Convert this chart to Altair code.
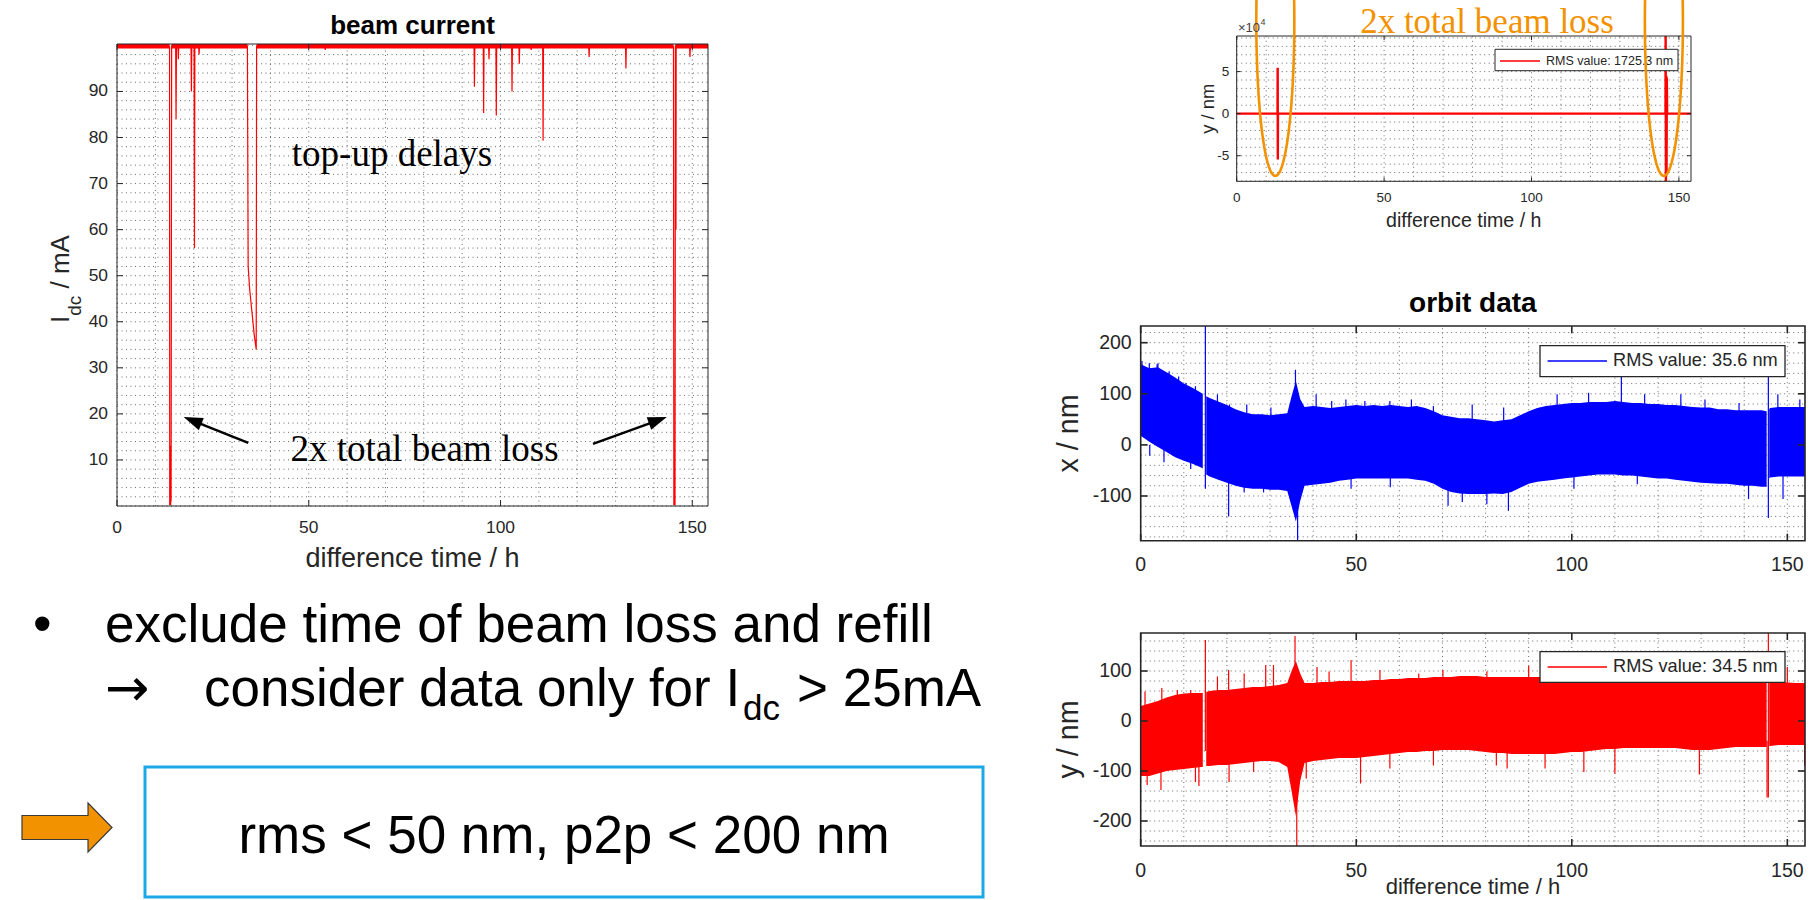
import altair as alt
import numpy as np
import pandas as pd

RED = "#ff0000"
BLUE = "#0000ff"
ORANGE = "#f39200"
AXC = "#262626"
GRIDC = "#6a6a6a"
SANS = "Liberation Sans"
SERIF = "Liberation Serif"

# ---------------- beam current (mA) vs time (h) ----------------
bc_t = [0, 13.7, 13.75, 14.0, 14.05, 14.1, 14.25,
        15.3, 15.4, 15.5, 15.9, 16.0, 16.1,
        19.3, 19.4, 19.5, 20.1, 20.2, 20.3, 21.3, 21.4, 21.5,
        34.0, 34.2, 34.6, 35.2, 35.8, 36.3, 36.4,
        54.2, 54.3, 54.4, 93.1, 93.2, 93.3, 95.5, 95.6, 95.7,
        96.9, 97.0, 97.1, 98.8, 98.9, 99.0, 102.9, 103.0, 103.1,
        104.8, 104.9, 105.0, 107.9, 108.0, 108.1, 111.0, 111.1, 111.2,
        123.0, 123.1, 123.2, 132.6, 132.7, 132.8,
        145.1, 145.2, 145.5, 145.6, 145.7, 145.75, 145.8,
        149.3, 149.4, 149.5, 154.1]
bc_i = [99.8, 99.8, 0.3, 0.3, 13, 1, 99.8,
        99.8, 84, 99.8, 99.8, 97, 99.8,
        99.8, 90, 99.8, 99.8, 56, 99.8, 99.8, 98, 99.8,
        99.8, 52, 47, 42, 37, 34, 99.8,
        99.8, 99, 99.8, 99.8, 91, 99.8, 99.8, 85.3, 99.8,
        99.8, 97, 99.8, 99.8, 84.8, 99.8, 99.8, 90, 99.8,
        99.8, 96, 99.8, 99.8, 99, 99.8, 99.8, 79.3, 99.8,
        99.8, 97.5, 99.8, 99.8, 95, 99.8,
        99.8, 0.3, 0.3, 99.8, 99.8, 60, 99.8,
        99.8, 97.5, 99.8, 99.8]
# top-up band (dense refills) segments
band_t0 = [0, 14.25, 36.4, 145.6]
band_t1 = [13.7, 34.0, 145.1, 154.1]
band_lo = [99.3, 99.3, 99.3, 99.3]
band_hi = [100.3, 100.3, 100.3, 100.3]

# ---------------- raw y orbit (x 1e4 nm) ----------------
tr_t = [0, 13.85, 13.9, 13.95, 14.0, 145.45, 145.5, 145.6, 145.7, 145.8, 145.9, 146.0, 154.1]
tr_v = [0, 0, 5.45, -5.45, 0, 0, 9.23, -8.04, 4.5, -7.3, 4.3, 0, 0]

# annotation ellipses (centre t, half width in h, centre y, half height, in 1e4 nm)
ell_cx = [13.1, 144.9]
ell_a = 6.45
ell_cy = 11.0
ell_b = 18.4

# ---------------- orbit data envelopes (nm) ----------------
tA = [0, 2, 4, 6, 8, 10, 12, 14, 14.4]
tB = ([15.2, 16, 18, 20, 22, 24, 26, 28, 30, 32]
      + [34, 35, 36, 37, 38, 40, 42, 44, 46, 48]
      + [50, 52, 54, 56, 58, 60, 62, 64, 66, 68]
      + [70, 72, 74, 76, 78, 80, 82, 84, 86, 88]
      + [90, 92, 94, 96, 98, 100, 102, 104, 106, 108]
      + [110, 112, 114, 116, 118, 120, 122, 124, 126, 128]
      + [130, 132, 134, 136, 138, 140, 142, 144, 145.2])
tC = [145.8, 146, 148, 150, 152, 154.1]

ox_hi = ([158, 150, 152, 142, 132, 120, 112, 102, 100]
         + [95, 92, 85, 78, 70, 64, 60, 60, 58, 60]
         + [62, 95, 125, 90, 74, 76, 74, 72, 74, 76]
         + [78, 76, 78, 76, 78, 76, 74, 76, 72, 66]
         + [58, 55, 52, 52, 50, 48, 46, 48, 50, 58]
         + [66, 72, 76, 78, 80, 82, 82, 84, 84, 84]
         + [86, 84, 82, 82, 80, 80, 78, 78, 76, 74]
         + [73, 73, 70, 70, 68, 68, 68, 68, 66]
         + [70, 72, 74, 74, 74, 74])
ox_lo = ([18, 6, -4, -14, -24, -31, -37, -44, -46]
         + [-58, -62, -68, -74, -80, -84, -86, -86, -88, -88]
         + [-90, -120, -150, -110, -80, -78, -76, -74, -70, -68]
         + [-66, -66, -66, -66, -66, -66, -66, -68, -70, -76]
         + [-86, -92, -95, -96, -96, -96, -95, -96, -92, -84]
         + [-76, -72, -70, -68, -66, -64, -62, -60, -58, -58]
         + [-58, -60, -60, -62, -64, -66, -66, -68, -70, -72]
         + [-74, -75, -76, -76, -78, -80, -80, -82, -82]
         + [-66, -64, -62, -62, -62, -62])
oy_hi = ([30, 35, 40, 47, 52, 55, 56, 56, 56]
         + [58, 60, 62, 62, 64, 66, 68, 68, 70, 72]
         + [76, 100, 120, 95, 76, 76, 78, 78, 80, 80]
         + [80, 80, 82, 82, 84, 84, 86, 86, 86, 88]
         + [88, 88, 90, 90, 90, 88, 88, 88, 88, 88]
         + [88, 88, 88, 86, 86, 86, 86, 84, 84, 84]
         + [82, 82, 82, 82, 80, 80, 80, 80, 80, 80]
         + [80, 80, 80, 80, 80, 80, 80, 80, 80]
         + [78, 78, 78, 77, 76, 76])
oy_lo = ([-110, -110, -105, -100, -98, -96, -94, -92, -92]
         + [-90, -90, -88, -88, -86, -84, -82, -80, -80, -82]
         + [-92, -140, -190, -120, -84, -80, -78, -76, -74, -74]
         + [-74, -72, -70, -68, -66, -64, -62, -62, -60, -60]
         + [-58, -58, -58, -58, -60, -62, -64, -64, -66, -66]
         + [-66, -66, -66, -66, -64, -62, -62, -60, -58, -56]
         + [-56, -54, -54, -54, -54, -54, -54, -54, -56, -58]
         + [-58, -58, -56, -54, -52, -52, -52, -52, -52]
         + [-50, -50, -48, -48, -48, -48])
o_seg = ["a"] * len(tA) + ["b"] * len(tB) + ["c"] * len(tC)
o_t = tA + tB + tC

# spikes of x orbit (t, low end, high end)
oxs_t = [0.3, 2, 3.8, 4, 6.6, 8.8, 10.5, 12.7, 15.0, 17.8, 20.6, 24.6, 30.2, 35.9, 40.7,
         44.3, 47.6, 52, 57.8, 62.8, 67.9, 76.9, 84.2, 96.6, 103.9, 111.5, 116.9, 125.3,
         130.9, 138.8, 145.6, 147.8, 152.9,
         2.1, 5.4, 11.6, 20.4, 24, 28.5, 36.4, 48.8, 57.9, 71.3, 74.6, 80.3, 85.3, 100.5,
         115.2, 141, 149]
oxs_lo = [60, 60, 60, 60, 60, 60, 60, 60, -86, 40, 30, 30, 30, 60, 40,
          40, 40, 40, 40, 40, 40, 20, 20, 40, 40, 40, 40, 40,
          40, 40, -143, 40, 40,
          -21, -34, -47, -140, -93, -93, -187.5, -86, -83, -119, -112, -116, -129, -86,
          -77, -106, -106]
oxs_hi = [164, 160, 158, 160, 144, 134, 121, 115, 232.7, 99, 79, 79, 73, 147, 99,
          86, 89, 86, 86, 89, 76, 79, 73, 99, 102, 134, 99, 99,
          89, 82, 134, 99, 89,
          0, -10, -30, -50, -60, -60, -100, -50, -50, -70, -70, -70, -70, -50,
          -40, -60, -50]
# spikes of y orbit
oys_t = [1, 4.9, 8.5, 11.6, 15.0, 17.8, 20.4, 24, 29, 30.8, 35.8, 40.9, 43.7, 48.8, 55.5,
         64.5, 70.1, 80.3, 90, 97.1, 103.9, 109.5, 118.5, 128.7, 138.8, 145.6, 150,
         1.5, 4.7, 12.7, 13.5, 20.5, 26.2, 36.2, 38.4, 51, 57.8, 67.9, 82.5, 85, 93.8, 102.8,
         110, 129.6, 145.3, 154]
oys_lo = [20, 30, 40, 40, -60, 40, 40, 40, 50, 50, 60, 50, 50, 50, 50,
          60, 60, 60, 60, 60, 60, 60, 60, 60, 60, -153, 60,
          -128, -138, -122, -130, -122, -102, -250, -115, -125, -95, -89, -89, -95, -95, -102,
          -105, -107, -153, -89]
oys_hi = [59, 66, 62, 62, 162, 89, 102, 95, 112, 112, 170, 108, 99, 122, 102,
          95, 102, 99, 110, 102, 108, 115, 95, 89, 89, 176, 108,
          -90, -90, -80, -80, -70, -60, -150, -70, -60, -50, -50, -50, -50, -50, -50,
          -50, -50, -40, -40]

XT = [0, 50, 100, 150]
XG = list(range(0, 151, 10))

ONE = pd.DataFrame({"k": [0]})


def txt(s, x, y, size, font=SANS, color="black", align="left", baseline="alphabetic",
        weight="normal", angle=0):
    kw = dict(fontSize=size, font=font, color=color, align=align, baseline=baseline,
              fontWeight=weight)
    if angle:
        kw["angle"] = angle
    return alt.Chart(ONE).mark_text(**kw).encode(
        x=alt.value(x), y=alt.value(y), text=alt.value(s))


def legend(x0, x1, y0, y1, lx0, lx1, ly, color, label, fs, sw=1.0):
    box = alt.Chart(ONE).mark_rect(fill="white", stroke=AXC, strokeWidth=sw).encode(
        x=alt.value(x0), x2=alt.value(x1), y=alt.value(y0), y2=alt.value(y1))
    ln = alt.Chart(ONE).mark_rule(color=color, strokeWidth=1.3).encode(
        x=alt.value(lx0), x2=alt.value(lx1), y=alt.value(ly))
    t = txt(label, lx1 + 6, ly, fs, color=AXC, baseline="middle")
    return [box, ln, t]


def panel(p, data_fn, over=()):
    xsc = alt.Scale(domain=p["xdom"], range=[p["left"], p["right"]], nice=False, zero=False)
    ysc = alt.Scale(domain=p["ydom"], range=[p["bottom"], p["top"]], nice=False, zero=False)

    def X(f):
        return alt.X(f + ":Q", scale=xsc, axis=None)

    def Y(f):
        return alt.Y(f + ":Q", scale=ysc, axis=None)

    x0, x1 = p["xdom"]
    y0, y1 = p["ydom"]
    dash = [1, 3.5]
    L = []
    gv = pd.DataFrame({"g": p["xgrid"]})
    gv["a"] = y0
    gv["b"] = y1
    L.append(alt.Chart(gv).mark_rule(color=GRIDC, strokeWidth=1, strokeDash=dash).encode(
        x=X("g"), y=Y("a"), y2=alt.Y2("b")))
    gh = pd.DataFrame({"g": p["ygrid"]})
    gh["a"] = x0
    gh["b"] = x1
    L.append(alt.Chart(gh).mark_rule(color=GRIDC, strokeWidth=1, strokeDash=dash).encode(
        y=Y("g"), x=X("a"), x2=alt.X2("b")))
    L += data_fn(X, Y)
    fr = pd.DataFrame({"x0": [x0], "x1": [x1], "y0": [y0], "y1": [y1]})
    L.append(alt.Chart(fr).mark_rect(fillOpacity=0, stroke=AXC, strokeWidth=p["fw"]).encode(
        x=X("x0"), x2=alt.X2("x1"), y=Y("y0"), y2=alt.Y2("y1")))
    tl = p["tl"]
    tw = p["tw"]
    tx = pd.DataFrame({"v": p["xticks"]})
    tx["a"] = y0
    tx["b"] = y1
    L.append(alt.Chart(tx).mark_rule(color=AXC, strokeWidth=tw, y2Offset=-tl).encode(
        x=X("v"), y=Y("a"), y2=alt.Y2("a")))
    L.append(alt.Chart(tx).mark_rule(color=AXC, strokeWidth=tw, y2Offset=tl).encode(
        x=X("v"), y=Y("b"), y2=alt.Y2("b")))
    ty = pd.DataFrame({"v": p["yticks"]})
    ty["a"] = x0
    ty["b"] = x1
    L.append(alt.Chart(ty).mark_rule(color=AXC, strokeWidth=tw, x2Offset=tl).encode(
        y=Y("v"), x=X("a"), x2=alt.X2("a")))
    L.append(alt.Chart(ty).mark_rule(color=AXC, strokeWidth=tw, x2Offset=-tl).encode(
        y=Y("v"), x=X("b"), x2=alt.X2("b")))
    xl = pd.DataFrame({"v": p["xticks"], "lab": [str(v) for v in p["xticks"]]})
    xl["a"] = y0
    L.append(alt.Chart(xl).mark_text(font=SANS, fontSize=p["fs"], color=AXC, align="center",
                                     baseline="alphabetic", dy=p["xdy"]).encode(
        x=X("v"), y=Y("a"), text="lab:N"))
    yl = pd.DataFrame({"v": p["yticks"], "lab": p["ylabels"]})
    yl["a"] = x0
    L.append(alt.Chart(yl).mark_text(font=SANS, fontSize=p["fs"], color=AXC, align="right",
                                     baseline="middle", dx=-p["ygap"]).encode(
        x=X("a"), y=Y("v"), text="lab:N"))
    L += list(over)
    return alt.layer(*L)


# ---------- panel geometry ----------
P_BC = dict(left=117, right=708, top=44, bottom=506, xdom=[0, 154.1], ydom=[0, 100.3],
            xticks=XT, yticks=list(range(10, 91, 10)), ylabels=[str(v) for v in range(10, 91, 10)],
            xgrid=XG, ygrid=list(range(0, 101, 2)), tl=6, tw=1, fw=1, fs=17.4, xdy=27.3, ygap=9)
P_TR = dict(left=1236.7, right=1691, top=36, bottom=181.3, xdom=[0, 154.1], ydom=[-8.04, 9.23],
            xticks=XT, yticks=[-5, 0, 5], ylabels=["-5", "0", "5"],
            xgrid=XG, ygrid=list(range(-8, 10, 1)), tl=4, tw=1, fw=1, fs=13.5, xdy=21, ygap=7.5)
P_OX = dict(left=1140.7, right=1805, top=326, bottom=540.7, xdom=[0, 154.1], ydom=[-187.5, 232.7],
            xticks=XT, yticks=[-100, 0, 100, 200], ylabels=["-100", "0", "100", "200"],
            xgrid=XG, ygrid=list(range(-180, 231, 20)), tl=7, tw=1.6, fw=1.6, fs=19.5, xdy=30, ygap=9)
P_OY = dict(left=1140.7, right=1805, top=633, bottom=846, xdom=[0, 154.1], ydom=[-250, 176],
            xticks=XT, yticks=[-200, -100, 0, 100], ylabels=["-200", "-100", "0", "100"],
            xgrid=XG, ygrid=list(range(-240, 176, 20)), tl=7, tw=1.6, fw=1.6, fs=19.5, xdy=30.7, ygap=9)


def bc_layers(X, Y):
    line = pd.DataFrame({"t": bc_t, "i": bc_i})
    band = pd.DataFrame({"t0": band_t0, "t1": band_t1, "lo": band_lo, "hi": band_hi})
    return [
        alt.Chart(line).mark_line(color=RED, strokeWidth=1.2).encode(x=X("t"), y=Y("i")),
        alt.Chart(band).mark_rect(color=RED).encode(x=X("t0"), x2=alt.X2("t1"),
                                                    y=Y("lo"), y2=alt.Y2("hi")),
    ]


def tr_layers(X, Y):
    line = pd.DataFrame({"t": tr_t, "v": tr_v})
    return [alt.Chart(line).mark_line(color=RED, strokeWidth=2.4).encode(x=X("t"), y=Y("v"))]


def ell_layer(p):
    xsc = alt.Scale(domain=p["xdom"], range=[p["left"], p["right"]], nice=False, zero=False)
    ysc = alt.Scale(domain=p["ydom"], range=[p["bottom"], p["top"]], nice=False, zero=False)
    th = np.linspace(0, 2 * np.pi, 181)
    rows = []
    for e, cx in enumerate(ell_cx):
        for k, a in enumerate(th):
            rows.append({"e": e, "k": k, "t": cx + ell_a * np.cos(a), "v": ell_cy + ell_b * np.sin(a)})
    df = pd.DataFrame(rows)
    return alt.Chart(df).mark_line(color=ORANGE, strokeWidth=2.6).encode(
        x=alt.X("t:Q", scale=xsc, axis=None), y=alt.Y("v:Q", scale=ysc, axis=None),
        detail="e:N", order="k:Q")


def orbit_layers(hi, lo, st, slo, shi, color):
    def fn(X, Y):
        band = pd.DataFrame({"t": o_t, "hi": hi, "lo": lo, "s": o_seg})
        sp = pd.DataFrame({"t": st, "lo": slo, "hi": shi})
        return [
            alt.Chart(band).mark_area(color=color, opacity=1).encode(
                x=X("t"), y=Y("hi"), y2=alt.Y2("lo"), detail="s:N"),
            alt.Chart(sp).mark_rule(color=color, strokeWidth=1.2).encode(
                x=X("t"), y=Y("lo"), y2=alt.Y2("hi")),
        ]
    return fn


panel_bc = panel(P_BC, bc_layers)
panel_tr = panel(P_TR, tr_layers,
                 over=legend(1495, 1678, 49.3, 70.7, 1500, 1540, 61, RED, "RMS value: 1725.3 nm", 12.5)
                 + [ell_layer(P_TR)])
panel_ox = panel(P_OX, orbit_layers(ox_hi, ox_lo, oxs_t, oxs_lo, oxs_hi, BLUE),
                 over=legend(1540, 1785, 345.7, 376.7, 1547.6, 1607, 361, BLUE, "RMS value: 35.6 nm", 18.2, 1.3))
panel_oy = panel(P_OY, orbit_layers(oy_hi, oy_lo, oys_t, oys_lo, oys_hi, RED),
                 over=legend(1540, 1785, 651.7, 682.3, 1547.6, 1607, 667, RED, "RMS value: 34.5 nm", 18.2, 1.3))

ann = []
# beam current texts
ann.append(txt("beam current", 412.5, 34, 26, align="center", weight="bold"))
ann.append(txt("difference time / h", 412.5, 567, 27, color=AXC, align="center"))
ann.append(txt("I", 69, 323, 26, color=AXC, angle=270))
ann.append(txt("dc", 81, 315.8, 19, color=AXC, angle=270))
ann.append(txt("/ mA", 69, 288.5, 26, color=AXC, angle=270))
ann.append(txt("top-up delays", 392, 166, 37, font=SERIF, align="center"))
ann.append(txt("2x total beam loss", 424.5, 460.7, 37, font=SERIF, align="center"))

# arrows on beam current
arrow_path = "M0,-1L0.7,1L-0.7,1Z"
for (sx, sy, cx, cy, ang) in [(248.3, 442.9, 192.5, 420.6, 291.8), (593, 443.9, 657.9, 420.3, 70.1)]:
    ann.append(alt.Chart(ONE).mark_rule(color="black", strokeWidth=2.5).encode(
        x=alt.value(sx), y=alt.value(sy), x2=alt.value(cx), y2=alt.value(cy)))
    ann.append(alt.Chart(ONE).mark_point(shape=arrow_path, size=361, filled=True, color="black",
                                         opacity=1, angle=ang).encode(
        x=alt.value(cx), y=alt.value(cy)))

# top right panel labels
ann.append(txt("\u00d710", 1238, 31.5, 13, color="#404040"))
ann.append(txt("4", 1260.5, 25, 9, color="#404040"))
ann.append(txt("y / nm", 1214, 108.7, 18.4, color=AXC, align="center", angle=270))
ann.append(txt("difference time / h", 1463.8, 226.7, 19.6, color=AXC, align="center"))
ann.append(txt("2x total beam loss", 1487, 33, 35, font=SERIF, color=ORANGE, align="center"))

# orbit panels labels
ann.append(txt("orbit data", 1472.9, 311.7, 28, align="center", weight="bold"))
ann.append(txt("x / nm", 1078, 433.4, 28.7, color=AXC, align="center", angle=270))
ann.append(txt("y / nm", 1078, 739.5, 28.7, color=AXC, align="center", angle=270))
ann.append(txt("difference time / h", 1472.9, 894, 22, color=AXC, align="center"))

# bullet text
ann.append(txt("\u2022", 33, 641.7, 53))
ann.append(txt("exclude time of beam loss and refill", 105, 641.7, 53))
ann.append(txt("\u2192", 105, 706, 53, font="DejaVu Sans"))
ann.append(txt("consider data only for I", 204, 706, 53))
ann.append(txt("dc", 743, 720, 35))
ann.append(txt("> 25mA", 797, 706, 53))

# result box
ann.append(alt.Chart(ONE).mark_rect(fillOpacity=0, stroke="#1ca9e6", strokeWidth=3).encode(
    x=alt.value(145), x2=alt.value(983), y=alt.value(767), y2=alt.value(897)))
ann.append(txt("rms < 50 nm, p2p < 200 nm", 564, 853, 53, align="center"))
block_path = "M-1,-0.267L0.467,-0.267L0.467,-0.544L1,0L0.467,0.544L0.467,0.267L-1,0.267Z"
ann.append(alt.Chart(ONE).mark_point(shape=block_path, size=8100, filled=True, fill=ORANGE,
                                     stroke="#3a3a3a", strokeWidth=1.2, opacity=1).encode(
    x=alt.value(67), y=alt.value(827.5)))

chart = alt.layer(panel_bc, panel_tr, panel_ox, panel_oy, *ann).resolve_scale(
    x="independent", y="independent"
).properties(
    width=1811, height=900, padding=0, background="white",
    autosize=alt.AutoSizeParams(type="none"),
).configure_view(strokeWidth=0)

chart.save("out.html", embed_options={"renderer": "svg", "actions": False})
